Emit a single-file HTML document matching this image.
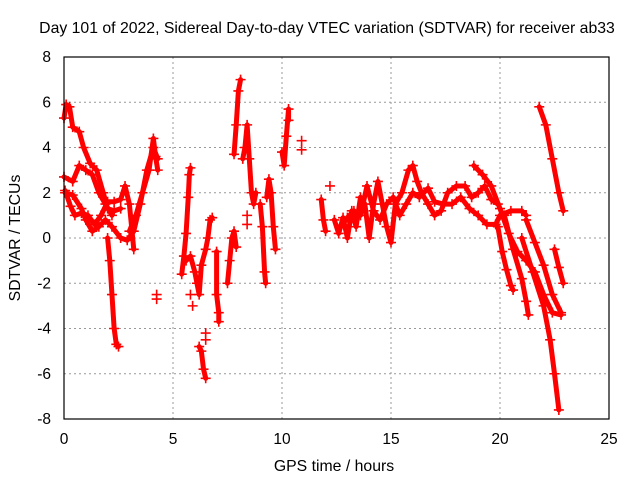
<!DOCTYPE html>
<html><head><meta charset="utf-8"><style>
body{margin:0;background:#fff}
svg{display:block;font-family:"Liberation Sans",sans-serif}
</style></head><body>
<svg id="c" width="640" height="480">
<text x="327" y="33" text-anchor="middle" font-size="15.8">Day 101 of 2022, Sidereal Day-to-day VTEC variation (SDTVAR) for receiver ab33</text>
<text x="334" y="471" text-anchor="middle" font-size="15.8">GPS time / hours</text>
<text transform="translate(20,238) rotate(-90)" text-anchor="middle" font-size="15.8">SDTVAR / TECUs</text>
<g id="grid"></g><g id="marks"></g>
<rect x="64" y="57" width="545" height="362" fill="none" stroke="#000" stroke-width="1.2"/>
</svg>
<script>
const xTicks=[0,5,10,15,20,25];
const yTicks=[-8,-6,-4,-2,0,2,4,6,8];
const tracks=[
[[0,5.3],[0.1,5.9],[0.25,5.8],[0.4,4.9],[0.7,4.7],[0.9,4.0],[1.2,3.3],[1.5,3.0],[1.8,2.0],[2.0,1.3],[2.3,1.2],[2.6,1.3]],
[[0.05,2.0],[0.4,1.9],[0.8,1.3],[1.0,0.8],[1.3,0.3],[1.6,0.5],[1.9,0.8],[2.2,0.5],[2.6,0.0],[2.9,-0.1],[3.2,0.3],[3.5,1.5],[3.8,3.0],[4.1,4.0],[4.3,3.5]],
[[0.05,2.1],[0.3,1.4],[0.5,1.0],[0.8,1.1],[1.1,1.0],[1.4,0.6],[1.7,1.0],[2.0,1.6],[2.3,1.6],[2.6,1.7],[2.8,2.3],[3.0,1.5],[3.2,-0.5]],
[[0,2.7],[0.4,2.5],[0.7,3.2],[1.0,3.0],[1.3,2.8],[1.6,2.0],[1.9,1.5],[2.2,1.0]],
[[2.0,0],[2.1,-1],[2.2,-2.5],[2.3,-4],[2.4,-4.7],[2.5,-4.8]],
[[3.0,0.3],[3.3,1.0],[3.6,2.0],[3.9,3.0],[4.1,4.4],[4.2,3.6],[4.3,3.0]],
[[4.25,-2.5],[4.25,-2.7]],
[[5.4,-1.6],[5.5,-0.8],[5.6,0.2],[5.7,1.8],[5.75,2.8],[5.8,3.1]],
[[5.6,-1.0],[5.8,-0.8],[6.0,-1.5],[6.1,-2.0],[6.2,-2.5],[6.3,-1.2],[6.5,-0.5],[6.6,0.0],[6.7,0.8],[6.8,0.9]],
[[5.8,-2.5],[5.9,-3.0]],
[[6.2,-4.8],[6.3,-5.0],[6.4,-5.8],[6.5,-6.2]],
[[6.5,-4.2],[6.5,-4.5]],
[[7.0,-0.6],[7.0,-2.5],[7.1,-3.3],[7.1,-3.7]],
[[7.5,-2.0],[7.6,-1.0],[7.7,0.0],[7.8,0.3],[7.9,-0.4]],
[[7.8,3.7],[7.9,5.0],[8.0,6.5],[8.1,7.0]],
[[8.2,3.5],[8.3,4.0],[8.4,5.0],[8.5,3.5],[8.6,2.0],[8.7,1.5],[8.8,2.0]],
[[8.4,1.0],[8.4,0.6]],
[[9.0,1.5],[9.1,0.5],[9.2,-1.5],[9.25,-2.0]],
[[9.3,1.8],[9.4,2.6],[9.5,2.0],[9.6,0.5],[9.7,-0.5]],
[[10.0,3.8],[10.1,3.2],[10.2,4.5],[10.3,5.7],[10.3,5.2]],
[[10.9,4.3],[10.9,3.9]],
[[11.8,1.7],[11.9,0.8],[12.0,0.3]],
[[12.2,2.3]],
[[12.4,0.8],[12.6,0.2],[12.8,0.9],[13.0,0.0],[13.2,1.2],[13.4,0.5],[13.6,1.8],[13.8,1.5],[14.0,0.0],[14.2,1.5],[14.4,2.5],[14.6,1.5],[14.8,0.5],[15.0,-0.2],[15.2,1.5],[15.5,2.0],[15.8,3.0],[16.0,3.2],[16.2,2.5],[16.4,2.0],[16.7,1.5],[17.0,1.0],[17.3,1.2],[17.6,2.0],[18.0,2.3],[18.4,2.3],[18.7,1.8],[19.0,2.0],[19.3,2.3],[19.6,1.7],[19.9,1.5]],
[[12.7,0.5],[13.0,0.9],[13.3,1.2],[13.6,1.0],[13.9,2.3],[14.2,1.2],[14.5,0.8],[14.8,1.5],[15.1,1.8],[15.4,1.0],[15.7,1.5],[16.0,2.0],[16.3,1.8],[16.7,2.2],[17.0,1.6],[17.4,1.5],[17.8,1.5],[18.2,1.8],[18.6,1.3],[19.0,1.0],[19.4,0.6],[19.8,0.6],[20.0,1.0],[20.5,1.2],[21.0,1.2],[21.2,1.0]],
[[18.8,3.2],[19.2,2.8],[19.6,2.3],[20.0,1.3],[20.4,0.2],[20.8,-0.6],[21.2,-1.0],[21.6,-1.5],[22.0,-2.5],[22.4,-3.3],[22.8,-3.4]],
[[19.9,0.5],[20.1,-0.6],[20.3,-1.4],[20.5,-2.1],[20.6,-2.3]],
[[20.2,1.0],[20.6,-0.5],[21.0,-1.8],[21.2,-2.8],[21.3,-3.4]],
[[21.0,0.0],[21.5,-1.5],[22.0,-3.0],[22.3,-4.5],[22.5,-6.0],[22.7,-7.6]],
[[21.2,0.8],[21.6,-0.2],[22.0,-1.2],[22.4,-2.5],[22.8,-3.3]],
[[22.5,-0.5],[22.7,-1.3],[22.9,-2.0]],
[[21.8,5.8],[22.1,5.0],[22.4,3.5],[22.7,2.0],[22.9,1.2]]
];
const X=t=>64+t*545/25, Y=v=>57+(8-v)*362/16;
const ns="http://www.w3.org/2000/svg";
const grid=document.getElementById('grid'), marks=document.getElementById('marks'), svg=document.getElementById('c');
function mk(tag,at,par){const e=document.createElementNS(ns,tag);for(const k in at)e.setAttribute(k,at[k]);par.appendChild(e);return e;}
xTicks.forEach(t=>{
  if(t>0&&t<25){const l=mk('line',{x1:X(t),x2:X(t),y1:57,y2:419,stroke:'#999','stroke-dasharray':'2,3'},grid);
  
  }
  const tx=mk('text',{x:X(t),y:444,'text-anchor':'middle','font-size':15.5},svg);tx.textContent=t;
  
  
});
yTicks.forEach(v=>{
  if(v>-8&&v<8){const l=mk('line',{x1:64,x2:609,y1:Y(v),y2:Y(v),stroke:'#999','stroke-dasharray':'2,3'},grid);
  
  }
  const tx=mk('text',{x:51,y:Y(v)+5,'text-anchor':'end','font-size':15.5},svg);tx.textContent=v;
  
  
});
tracks.forEach(tr=>{
  if(tr.length>2){const pl=mk('polyline',{points:tr.map(p=>X(p[0])+','+Y(p[1])).join(' '),fill:'none',stroke:'#f00','stroke-width':5,'stroke-linejoin':'round','stroke-linecap':'round'},marks);
  
  }
  tr.forEach(p=>{const x=X(p[0]),y=Y(p[1]);
    const m=mk('path',{d:`M${x-5},${y}H${x+5}M${x},${y-5}V${y+5}`,stroke:'#f00','stroke-width':1.6},marks);
    
    
  });
});
</script>
</body></html>
